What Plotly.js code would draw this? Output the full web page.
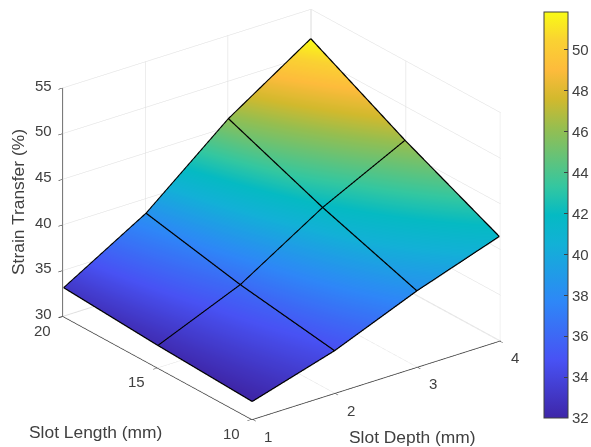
<!DOCTYPE html>
<html>
<head>
<meta charset="utf-8">
<script src="https://cdn.plot.ly/plotly-3.0.1.min.js"></script>
<style>html,body{margin:0;padding:0;background:#fff}#g{width:591px;height:447px}</style>
</head>
<body>
<div id="g"></div>
<script>
const slotDepth = [1, 2, 3, 4];
const slotLength = [10, 15, 20];
const strainLen10 = [31.9, 34.6, 38.3, 41.4];
const strainLen15 = [32.4, 36.2, 41.8, 46.3];
const strainLen20 = [33.1, 38.4, 45.9, 51.8];
const strainTicks = [30, 35, 40, 45, 50, 55];
const colorTicks = [32, 34, 36, 38, 40, 42, 44, 46, 48, 50];
const strain = [strainLen10, strainLen15, strainLen20];
const parula = [
 [0, 'rgb(62,38,168)'], [0.143, 'rgb(72,82,244)'], [0.286, 'rgb(46,135,247)'],
 [0.429, 'rgb(18,177,214)'], [0.5, 'rgb(5,186,195)'], [0.571, 'rgb(52,199,160)'],
 [0.714, 'rgb(150,190,80)'], [0.786, 'rgb(210,185,45)'], [0.857, 'rgb(253,187,60)'],
 [0.93, 'rgb(250,210,50)'], [1, 'rgb(249,251,21)']
];
const F = 'Liberation Sans, Arial, sans-serif';
const TXT = '#404040';
const lift = 0.04;
const axisBase = {
  showbackground: false, showgrid: true, gridcolor: '#dcdcdc', gridwidth: 1,
  zeroline: false, showline: true, linecolor: '#333333', linewidth: 1.5,
  ticks: 'outside', ticklen: 5, tickcolor: '#333333', tickwidth: 1.2, showspikes: false,
  showticklabels: false, title: {text: ''}
};
const surf = {
  type: 'surface', x: slotDepth, y: slotLength, z: strain,
  colorscale: parula, cmin: 32, cmax: 51.85,
  lighting: {ambient: 1, diffuse: 0, specular: 0, roughness: 1, fresnel: 0},
  hoverinfo: 'skip',
  contours: {x: {highlight: false}, y: {highlight: false}, z: {highlight: false}},
  colorbar: {
    tickvals: colorTicks, ticks: 'inside', ticklen: 4, tickcolor: TXT,
    outlinecolor: TXT, outlinewidth: 1, thicknessmode: 'pixels', thickness: 24,
    lenmode: 'pixels', len: 406, yanchor: 'top', y: 1 - 12 / 447, x: 544 / 591, xanchor: 'left',
    xpad: 0, ypad: 0, tickfont: {family: F, size: 15, color: TXT}
  }
};
const mesh = [];
const meshLine = (x, y, z) => ({type: 'scatter3d', mode: 'lines', x, y, z: z.map(v => v + lift), hoverinfo: 'skip', showlegend: false,
  line: {color: '#000', width: 2.5}});
slotLength.forEach((l, r) => mesh.push(meshLine(slotDepth, slotDepth.map(() => l), strain[r])));
slotDepth.forEach((d, c) => mesh.push(meshLine(slotLength.map(() => d), slotLength, strain.map(row => row[c]))));

const tickNote = (x, y, z, text, xshift, yshift) => ({x, y, z, text: String(text), showarrow: false, xshift, yshift,
  font: {family: F, size: 15, color: TXT}});
const notes = [];
strainTicks.forEach(t => notes.push(tickNote(1, 20, t, t, -20, 3)));
slotLength.forEach(t => notes.push(tickNote(1, t, 30, t, -21, -14)));
slotDepth.forEach(t => notes.push(tickNote(t, 10, 30, t, 16, -17)));

const title = (text, px, py, extra) => Object.assign({text, x: px / 591, y: 1 - py / 447, xref: 'paper', yref: 'paper',
  xanchor: 'center', yanchor: 'middle', showarrow: false, font: {family: F, size: 17.4, color: TXT}}, extra);

const layout = {
  width: 591, height: 447, margin: {l: 0, r: 0, t: 0, b: 0, autoexpand: false},
  paper_bgcolor: '#fff', showlegend: false,
  scene: {
    domain: {x: [0, 1 - 28 / 591], y: [18 / 447, 1]},
    aspectmode: 'manual', aspectratio: {x: 1.458, y: 1.458, z: 1.17},
    xaxis: Object.assign({}, axisBase, {range: [0.99, 4.01], tickvals: slotDepth}),
    yaxis: Object.assign({}, axisBase, {range: [9.97, 20.03], tickvals: slotLength}),
    zaxis: Object.assign({}, axisBase, {range: [30, 55], tickvals: strainTicks}),
    annotations: notes,
    camera: {
      projection: {type: 'orthographic'}, up: {x: 0, y: 0, z: 1}, center: {x: 0, y: 0, z: 0},
      eye: {x: -0.606 * 0.9095 * 1.6, y: -0.795 * 0.9095 * 1.6, z: 0.4157 * 1.6}
    }
  },
  annotations: [
    title('Slot Length (mm)', 95, 432),
    title('Slot Depth (mm)', 412, 437),
    title('Strain Transfer (%)', 18, 202, {textangle: -90})
  ]
};
Plotly.newPlot('g', [surf].concat(mesh), layout, {displayModeBar: false});
</script>
</body>
</html>
